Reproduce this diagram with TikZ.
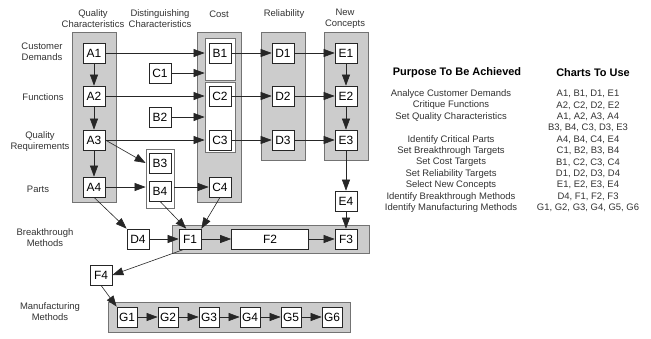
\documentclass[tikz,border=0pt]{standalone}
\usepackage{fontspec}
\setmainfont{Liberation Sans}
\usepackage{tikz}
\usetikzlibrary{arrows.meta}
\tikzset{>={Triangle[length=11bp,width=8bp]}}
\tikzset{
  chart/.style={draw=black!85,fill=white,line width=0.7bp,minimum width=22bp,minimum height=20bp,inner sep=1bp,font=\fontsize{12}{12}\selectfont},
  band/.style={draw=black!55,fill=gray!40,line width=0.8bp,inner sep=0pt},
  inbox/.style={draw=black!55,fill=white,line width=0.8bp,inner sep=0pt},
  lbl/.style={align=center,inner sep=0pt,text=black!80,font=\fontsize{9.5}{11}\selectfont},
  head/.style={inner sep=0pt,font=\fontsize{11}{13}\bfseries\selectfont},
  item/.style={inner sep=0pt,text=black!80,font=\fontsize{9.5}{11}\selectfont},
  link/.style={->,line width=0.6bp,black!85}
}

\begin{document}
\begin{tikzpicture}[x=1bp,y=-1bp]
\useasboundingbox (0,0) rectangle (651,338);
% gray bands and white groups
\node[band,minimum width=44bp,minimum height=170bp] (bandA) at (94,117) {};
\node[band,minimum width=44bp,minimum height=170bp] (bandC) at (219,117) {};
\node[band,minimum width=44bp,minimum height=128bp] (bandD) at (283,96) {};
\node[band,minimum width=44bp,minimum height=128bp] (bandE) at (346,96) {};
\node[band,minimum width=197bp,minimum height=28bp] (bandF) at (270.5,239) {};
\node[band,minimum width=242bp,minimum height=30bp] (bandG) at (229,317) {};
\node[inbox,minimum width=30bp,minimum height=42bp] (cost1) at (220,59) {};
\node[inbox,minimum width=30bp,minimum height=70bp] (cost2) at (220,117) {};
\node[inbox,minimum width=28bp,minimum height=59bp] (colB) at (160,178.5) {};

% column headings
\node[lbl] (hA) at (93,19) {Quality\\Characteristics};
\node[lbl] (hB) at (160,19) {Distinguishing\\Characteristics};
\node[lbl] (hC) at (219,14) {Cost};
\node[lbl] (hD) at (284,14) {Reliability};
\node[lbl] (hE) at (345,19) {New\\Concepts};

% row headings
\node[lbl] (rDem) at (42,52) {Customer\\Demands};
\node[lbl] (rFun) at (43,97) {Functions};
\node[lbl] (rReq) at (40,142) {Quality\\Requirements};
\node[lbl] (rPar) at (38,189) {Parts};
\node[lbl] (rBrk) at (45,238) {Breakthrough\\Methods};
\node[lbl] (rMan) at (50,312) {Manufacturing\\Methods};

% charts
\node[chart] (A1) at (94,53) {A1};
\node[chart] (A2) at (94,96) {A2};
\node[chart] (A3) at (94,140) {A3};
\node[chart] (A4) at (94,187) {A4};
\node[chart] (C1) at (160,73) {C1};
\node[chart] (B2) at (160,117) {B2};
\node[chart] (B3) at (160,163) {B3};
\node[chart] (B4) at (160,191) {B4};
\node[chart] (B1) at (220,53) {B1};
\node[chart] (C2) at (220,96) {C2};
\node[chart] (C3) at (220,140) {C3};
\node[chart] (C4) at (220,187) {C4};
\node[chart] (D1) at (283,53) {D1};
\node[chart] (D2) at (283,96) {D2};
\node[chart] (D3) at (283,140) {D3};
\node[chart] (E1) at (346,53) {E1};
\node[chart] (E2) at (346,96) {E2};
\node[chart] (E3) at (346,140) {E3};
\node[chart] (E4) at (346,201) {E4};
\node[chart] (D4) at (138,239) {D4};
\node[chart] (F1) at (190,239) {F1};
\node[chart,minimum width=77bp] (F2) at (270,239) {F2};
\node[chart] (F3) at (346,239) {F3};
\node[chart] (F4) at (101,275) {F4};
\node[chart,minimum width=20bp] (G1) at (127,317) {G1};
\node[chart,minimum width=20bp] (G2) at (168,317) {G2};
\node[chart,minimum width=20bp] (G3) at (209,317) {G3};
\node[chart,minimum width=20bp] (G4) at (250,317) {G4};
\node[chart,minimum width=20bp] (G5) at (291,317) {G5};
\node[chart,minimum width=20bp] (G6) at (332,317) {G6};

% connectors
\draw[link] (A1) -- (A2);
\draw[link] (A2) -- (A3);
\draw[link] (A3) -- (A4);
\draw[link] (A1) -- (A1 -| cost1.west);
\draw[link] (C1) -- (C1 -| cost1.west);
\draw[link] (A2) -- (A2 -| cost2.west);
\draw[link] (B2) -- (B2 -| cost2.west);
\draw[link] (A3) -- (A3 -| cost2.west);
\draw[link] (A3.east) -- (colB.west |- B3);
\draw[link] (A4) -- (A4 -| colB.west);
\draw[link] (colB.east |- C4) -- (C4);
\draw[link] (B1) -- (D1);
\draw[link] (D1) -- (E1);
\draw[link] (C2) -- (D2);
\draw[link] (D2) -- (E2);
\draw[link] (C3) -- (D3);
\draw[link] (D3) -- (E3);
\draw[link] (E1) -- (E2);
\draw[link] (E2) -- (E3);
\draw[link] (E3) -- (E4);
\draw[link] (E4) -- (F3);
\draw[link] (A4.south) -- (D4.north west);
\draw[link] (B4.south) -- (F1.110);
\draw[link] (C4.south) -- (F1.north east);
\draw[link] (D4) -- (F1);
\draw[link] (F1) -- (F2);
\draw[link] (F2) -- (F3);
\draw[link] (F1.240) -- (F4.east);
\draw[link] (F4.south) -- (G1.north west);
\draw[link] (G1) -- (G2);
\draw[link] (G2) -- (G3);
\draw[link] (G3) -- (G4);
\draw[link] (G4) -- (G5);
\draw[link] (G5) -- (G6);

% table
\node[head] (tP) at (457,73) {Purpose To Be Achieved};
\node[head] (tC) at (593,73) {Charts To Use};
\node[item] (p0) at (451,94) {Analyce Customer Demands};
\node[item] (p1) at (451,105.4) {Critique Functions};
\node[item] (p2) at (451,116.8) {Set Quality Characteristics};
\node[item] (p4) at (451,139.6) {Identify Critical Parts};
\node[item] (p5) at (451,151) {Set Breakthrough Targets};
\node[item] (p6) at (451,162.4) {Set Cost Targets};
\node[item] (p7) at (451,173.8) {Set Reliability Targets};
\node[item] (p8) at (451,185.2) {Select New Concepts};
\node[item] (p9) at (451,196.6) {Identify Breakthrough Methods};
\node[item] (p10) at (451,208) {Identify Manufacturing Methods};
\node[item] (c0) at (588,94) {A1, B1, D1, E1};
\node[item] (c1) at (588,105.4) {A2, C2, D2, E2};
\node[item] (c2) at (588,116.8) {A1, A2, A3, A4};
\node[item] (c3) at (588,128.2) {B3, B4, C3, D3, E3};
\node[item] (c4) at (588,139.6) {A4, B4, C4, E4};
\node[item] (c5) at (588,151) {C1, B2, B3, B4};
\node[item] (c6) at (588,162.4) {B1, C2, C3, C4};
\node[item] (c7) at (588,173.8) {D1, D2, D3, D4};
\node[item] (c8) at (588,185.2) {E1, E2, E3, E4};
\node[item] (c9) at (588,196.6) {D4, F1, F2, F3};
\node[item] (c10) at (588,208) {G1, G2, G3, G4, G5, G6};
\end{tikzpicture}
\end{document}
